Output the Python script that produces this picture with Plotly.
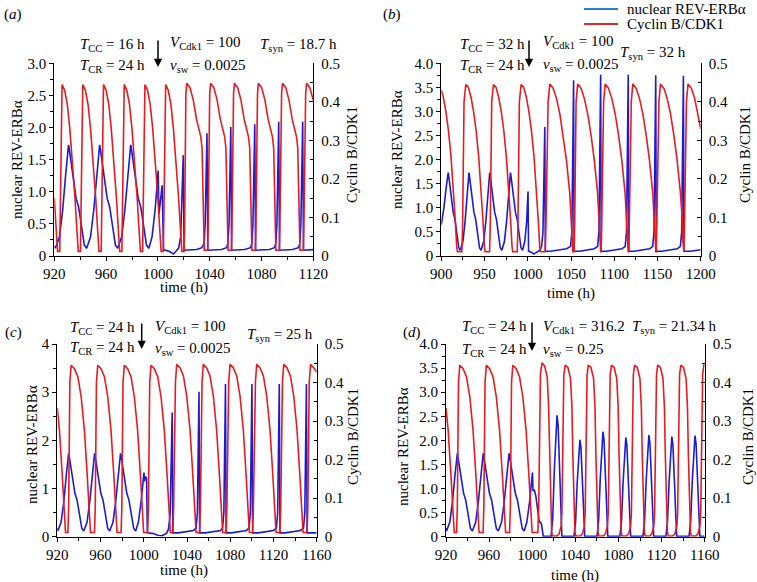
import plotly.graph_objects as go

W, H = 757, 582
FONT = "Liberation Serif, Times New Roman, serif"
BLUE = "#1b1bd4"
RED = "#e81a20"
LEG_BLUE = "#2a7fd4"
LEG_RED = "#e3262b"

# ---------------- Panel (a) ----------------
A_RED_T = [920, 921.5, 922.5, 924.2, 925.3,
           926, 928, 930, 932, 934, 936, 937.5, 938.5, 940.2, 941.3,
           942, 944, 946, 948, 950, 952, 953.5, 954.5, 956.2, 957.3,
           958, 960, 962, 964, 966, 968, 969.5, 970.5, 972.2, 973.3,
           974, 976, 978, 980, 982, 984, 985.5, 986.5, 988.2, 989.3,
           990, 992, 994, 996, 998, 1000, 1001.5, 1002.5, 1004.2, 1005.3,
           1006, 1008, 1010, 1012, 1014, 1016, 1017.5, 1018.5, 1020.2, 1020.6, 1021.6,
           1022.3, 1024.8, 1027.3, 1029.8, 1031.8, 1033.1, 1034.1, 1035.1, 1035.8, 1038.4, 1038.8, 1040.0,
           1040.7, 1043.2, 1045.7, 1048.2, 1050.2, 1051.5, 1052.5, 1053.5, 1054.2, 1056.8, 1057.2, 1058.4,
           1059.1, 1061.6, 1064.1, 1066.6, 1068.6, 1069.9, 1070.9, 1071.9, 1072.6, 1075.3, 1075.7, 1076.9,
           1077.6, 1080.1, 1082.6, 1085.1, 1087.1, 1088.4, 1089.4, 1090.4, 1091.1, 1093.8, 1094.2, 1095.5,
           1096.2, 1098.7, 1101.2, 1103.7, 1105.7, 1107.0, 1108.0, 1109.0, 1109.7, 1112.3, 1112.7, 1114.1,
           1114.8, 1117.3, 1120]
A_RED_V = [0.15, 0.065, 0.012, 0.012, 0.38,
           0.445, 0.43, 0.395, 0.33, 0.245, 0.15, 0.065, 0.012, 0.012, 0.38,
           0.445, 0.43, 0.395, 0.33, 0.245, 0.15, 0.065, 0.012, 0.012, 0.38,
           0.445, 0.43, 0.395, 0.33, 0.245, 0.15, 0.065, 0.012, 0.012, 0.38,
           0.445, 0.43, 0.395, 0.33, 0.245, 0.15, 0.065, 0.012, 0.012, 0.38,
           0.445, 0.43, 0.395, 0.33, 0.245, 0.15, 0.065, 0.012, 0.012, 0.38,
           0.445, 0.43, 0.395, 0.33, 0.245, 0.15, 0.065, 0.012, 0.012, 0.07, 0.42,
           0.448, 0.437, 0.405, 0.355, 0.323, 0.31, 0.28, 0.15, 0.015, 0.015, 0.07, 0.42,
           0.448, 0.437, 0.405, 0.355, 0.323, 0.31, 0.28, 0.15, 0.015, 0.015, 0.07, 0.42,
           0.448, 0.437, 0.405, 0.355, 0.323, 0.31, 0.28, 0.15, 0.015, 0.015, 0.07, 0.42,
           0.448, 0.437, 0.405, 0.355, 0.323, 0.31, 0.28, 0.15, 0.015, 0.015, 0.07, 0.42,
           0.448, 0.437, 0.405, 0.355, 0.323, 0.31, 0.28, 0.15, 0.015, 0.015, 0.07, 0.42,
           0.448, 0.437, 0.404]

A_BLUE_T = [920, 921, 924, 926.5, 928.7, 930.4, 931, 931.6, 934, 936.8, 938.8, 941, 943.2,
            945, 948, 950.5, 952.7, 954.4, 955, 955.6, 958, 960.8, 962.8, 965, 967.2,
            969, 972, 974.5, 976.7, 978.4, 979, 979.6, 982, 984.8, 986.8, 989, 991.2,
            993, 995.5, 998, 999.5, 1000.2, 1000.8, 1002.5, 1003.3, 1004.3,
            1006, 1009, 1012, 1014, 1016, 1017.6, 1019.6, 1020.2,
            1024, 1030, 1034, 1035.7, 1036.5, 1037.9, 1038.5,
            1043, 1049, 1053, 1054.1, 1054.9, 1056.3, 1056.9,
            1061, 1067, 1071.5, 1072.6, 1073.4, 1074.8, 1075.4,
            1080, 1086, 1090, 1091.1, 1091.9, 1093.3, 1093.9,
            1098, 1104, 1108.5, 1109.6, 1110.4, 1111.8, 1112.4,
            1116, 1120]
A_BLUE_V = [0.15, 0.13, 0.3, 0.72, 1.25, 1.65, 1.73, 1.66, 1.31, 0.9, 0.76, 0.42, 0.17,
            0.12, 0.3, 0.72, 1.25, 1.65, 1.73, 1.66, 1.31, 0.9, 0.76, 0.42, 0.17,
            0.12, 0.3, 0.72, 1.25, 1.65, 1.73, 1.66, 1.31, 0.9, 0.76, 0.42, 0.17,
            0.12, 0.3, 0.75, 1.1, 1.33, 0.65, 0.95, 1.1, 0.1,
            0.09, 0.07, 0.03, 0.07, 0.12, 0.3, 1.57, 0.09,
            0.09, 0.1, 0.13, 0.2, 0.5, 1.91, 0.09,
            0.09, 0.1, 0.13, 0.2, 0.5, 2.01, 0.09,
            0.09, 0.1, 0.13, 0.2, 0.5, 2.05, 0.09,
            0.09, 0.1, 0.13, 0.2, 0.5, 2.09, 0.09,
            0.09, 0.1, 0.13, 0.2, 0.5, 2.09, 0.09,
            0.09, 0.1]

# ---------------- Panel (b) ----------------
B_RED_T = [900, 902.3, 905.3, 908.3, 911.3, 914.3, 916.3, 917.8, 918.6, 923.8, 924.6, 926.3,
           928.3, 931.3, 934.3, 937.3, 940.3, 943.3, 946.3, 948.3, 949.8, 950.6, 955.8, 956.6, 958.3,
           960.3, 963.3, 966.3, 969.3, 972.3, 975.3, 978.3, 980.3, 981.8, 982.6, 987.8, 988.6, 990.3,
           992.3, 995.3, 998.3, 1001.3, 1004.3, 1007.3, 1010.3, 1012.3, 1013.8, 1014.6, 1020.2, 1021.0, 1023.5,
           1025.5, 1029.4, 1033.2, 1037.1, 1040.9, 1044.8, 1048.6, 1050.3, 1051.5, 1052.1, 1053.5, 1054.2, 1055.9,
           1057.7, 1061.6, 1065.4, 1069.3, 1073.1, 1077.0, 1080.8, 1082.5, 1083.7, 1084.3, 1084.8, 1085.5, 1087.7,
           1089.5, 1093.4, 1097.2, 1101.1, 1104.9, 1108.8, 1112.6, 1114.3, 1115.5, 1116.1, 1116.7, 1117.4, 1119.7,
           1121.5, 1125.4, 1129.2, 1133.1, 1136.9, 1140.8, 1144.6, 1146.3, 1147.5, 1148.1, 1148.5, 1149.2, 1151.7,
           1153.5, 1157.4, 1161.2, 1165.1, 1168.9, 1172.8, 1176.6, 1178.3, 1179.5, 1180.1, 1180.5, 1181.2, 1183.5,
           1185.3, 1189.2, 1193.0, 1196.9, 1200]
B_RED_V = [0.43, 0.4125, 0.375, 0.325, 0.256, 0.169, 0.0875, 0.025, 0.011, 0.011, 0.075, 0.40,
           0.445, 0.4375, 0.4125, 0.375, 0.325, 0.256, 0.169, 0.0875, 0.025, 0.011, 0.011, 0.075, 0.40,
           0.445, 0.4375, 0.4125, 0.375, 0.325, 0.256, 0.169, 0.0875, 0.025, 0.011, 0.011, 0.075, 0.40,
           0.445, 0.4375, 0.4125, 0.375, 0.325, 0.256, 0.169, 0.0875, 0.025, 0.011, 0.011, 0.075, 0.40,
           0.446, 0.435, 0.409, 0.369, 0.315, 0.2475, 0.1625, 0.106, 0.0375, 0.011, 0.011, 0.075, 0.40,
           0.446, 0.435, 0.409, 0.369, 0.315, 0.2475, 0.1625, 0.106, 0.0375, 0.011, 0.011, 0.075, 0.40,
           0.446, 0.435, 0.409, 0.369, 0.315, 0.2475, 0.1625, 0.106, 0.0375, 0.011, 0.011, 0.075, 0.40,
           0.446, 0.435, 0.409, 0.369, 0.315, 0.2475, 0.1625, 0.106, 0.0375, 0.011, 0.011, 0.075, 0.40,
           0.446, 0.435, 0.409, 0.369, 0.315, 0.2475, 0.1625, 0.106, 0.0375, 0.011, 0.011, 0.075, 0.40,
           0.446, 0.435, 0.409, 0.369, 0.33]

B_BLUE_T = [900, 903, 905.5, 907.4, 908, 908.6, 911, 913.8, 915.8, 918, 920.2,
            922, 925, 927.5, 929.7, 931.4, 932, 932.6, 935, 937.8, 939.8, 942, 944.2,
            946, 949, 951.5, 953.7, 955.4, 956, 956.6, 959, 961.8, 963.8, 966, 968.2,
            970, 973, 975.5, 977.7, 979.4, 980, 980.6, 983, 985.8, 987.8, 990, 992.2,
            994, 996.5, 998.7, 1000.3, 1000.9, 1004, 1007, 1010, 1014, 1016, 1017.6, 1019.7, 1020.3,
            1026, 1035, 1045, 1049.5, 1051.0, 1053, 1053.6,
            1060, 1068, 1077, 1080.8, 1082.3, 1084.3, 1084.9,
            1091, 1100, 1109, 1112.7, 1114.2, 1116.2, 1116.8,
            1123, 1132, 1141, 1144.5, 1146.0, 1148.0, 1148.6,
            1155, 1164, 1173, 1176.5, 1178.0, 1180.0, 1180.6,
            1188, 1200]
B_BLUE_V = [0.65, 1.0, 1.4, 1.67, 1.73, 1.66, 1.31, 0.9, 0.76, 0.42, 0.17,
            0.12, 0.3, 0.72, 1.25, 1.65, 1.73, 1.66, 1.31, 0.9, 0.76, 0.42, 0.17,
            0.12, 0.3, 0.72, 1.25, 1.65, 1.73, 1.66, 1.31, 0.9, 0.76, 0.42, 0.17,
            0.12, 0.3, 0.72, 1.25, 1.65, 1.73, 1.66, 1.31, 0.9, 0.76, 0.42, 0.17,
            0.12, 0.3, 0.7, 1.34, 0.1, 0.08, 0.04, 0.08, 0.12, 0.2, 0.5, 2.68, 0.1,
            0.1, 0.12, 0.15, 0.2, 0.5, 3.65, 0.1,
            0.1, 0.12, 0.15, 0.2, 0.5, 3.76, 0.1,
            0.1, 0.12, 0.15, 0.2, 0.5, 3.76, 0.1,
            0.1, 0.12, 0.15, 0.2, 0.5, 3.75, 0.1,
            0.1, 0.12, 0.15, 0.2, 0.5, 3.74, 0.1,
            0.1, 0.13]

# ---------------- Panels (c) and (d): shared pre-switch segment ----------------
CD_RED_EARLY_T = [920, 922, 924.5, 926.4, 927.6, 929.8, 930.5, 931.6,
                  932.8, 935.9, 939.0, 942.1, 945.1, 947.6, 949.5, 950.7, 954.4, 955.1, 956.2,
                  957.4, 960.5, 963.6, 966.7, 969.7, 972.2, 974.1, 975.3, 979.0, 979.7, 980.8,
                  982.0, 985.1, 988.2, 991.3, 994.3, 996.8, 998.7, 999.9]
CD_RED_EARLY_V = [0.334, 0.276, 0.164, 0.061, 0.011, 0.011, 0.075, 0.40,
                  0.445, 0.436, 0.415, 0.3625, 0.276, 0.164, 0.061, 0.011, 0.011, 0.075, 0.40,
                  0.445, 0.436, 0.415, 0.3625, 0.276, 0.164, 0.061, 0.011, 0.011, 0.075, 0.40,
                  0.445, 0.436, 0.415, 0.3625, 0.276, 0.164, 0.061, 0.011]
CD_BLUE_EARLY_T = [920, 920.5, 923.5, 926, 928.2, 929.9, 930.5, 931.1, 933.5, 936.3, 938.3, 940.5, 942.7,
                   944.5, 947.5, 950, 952.2, 953.9, 954.5, 955.1, 957.5, 960.3, 962.3, 964.5, 966.7,
                   968.5, 971.5, 974, 976.2, 977.9, 978.5, 979.1, 981.5, 984.3, 986.3, 988.5, 990.7,
                   992.5, 995, 997.5, 999.3, 1000.2]
CD_BLUE_EARLY_V = [0.18, 0.12, 0.3, 0.72, 1.25, 1.65, 1.73, 1.66, 1.31, 0.9, 0.76, 0.42, 0.17,
                   0.12, 0.3, 0.72, 1.25, 1.65, 1.73, 1.66, 1.31, 0.9, 0.76, 0.42, 0.17,
                   0.12, 0.3, 0.72, 1.25, 1.65, 1.73, 1.66, 1.31, 0.9, 0.76, 0.42, 0.17,
                   0.12, 0.3, 0.72, 1.05, 1.33]

# ---------------- Panel (c) post-switch ----------------
C_RED_LATE_T = [1003.6, 1004.3, 1005.5,
                1006.7, 1009.8, 1012.9, 1016.0, 1019.0, 1021.5, 1023.4, 1024.6, 1026.9, 1027.6, 1029.3,
                1030.5, 1033.6, 1036.7, 1039.8, 1042.8, 1045.3, 1047.2, 1048.4, 1051.7, 1052.4, 1053.9,
                1055.1, 1058.2, 1061.3, 1064.4, 1067.4, 1069.9, 1071.8, 1073.0, 1076.2, 1076.9, 1078.6,
                1079.8, 1082.9, 1086.0, 1089.1, 1092.1, 1094.6, 1096.5, 1097.7, 1100.7, 1101.4, 1103.3,
                1104.5, 1107.6, 1110.7, 1113.8, 1116.8, 1119.3, 1121.2, 1122.4, 1126.0, 1126.7, 1128.3,
                1129.5, 1132.6, 1135.7, 1138.8, 1141.8, 1144.3, 1146.2, 1147.4, 1151.1, 1151.8, 1153.1,
                1154.3, 1157.4, 1160]
C_RED_LATE_V = [0.011, 0.075, 0.40,
                0.445, 0.436, 0.415, 0.3625, 0.276, 0.164, 0.061, 0.011, 0.011, 0.075, 0.40,
                0.447, 0.438, 0.417, 0.364, 0.277, 0.164, 0.061, 0.011, 0.011, 0.075, 0.40,
                0.447, 0.438, 0.417, 0.364, 0.277, 0.164, 0.061, 0.011, 0.011, 0.075, 0.40,
                0.447, 0.438, 0.417, 0.364, 0.277, 0.164, 0.061, 0.011, 0.011, 0.075, 0.40,
                0.447, 0.438, 0.417, 0.364, 0.277, 0.164, 0.061, 0.011, 0.011, 0.075, 0.40,
                0.447, 0.438, 0.417, 0.364, 0.277, 0.164, 0.061, 0.011, 0.011, 0.075, 0.40,
                0.447, 0.438, 0.427]
C_BLUE_LATE_T = [1000.7, 1001.3, 1002.6, 1003.3, 1008, 1013, 1017, 1021, 1022.8, 1024.4, 1026.3, 1026.9,
                 1032, 1040, 1046, 1048.4, 1049.6, 1051.1, 1051.7,
                 1057, 1065, 1071, 1072.9, 1074.1, 1075.6, 1076.2,
                 1081, 1089, 1095, 1097.4, 1098.6, 1100.1, 1100.7,
                 1106, 1114, 1120, 1122.7, 1123.9, 1125.4, 1126.0,
                 1131, 1139, 1145, 1147.8, 1149.0, 1150.5, 1151.1,
                 1156, 1160]
C_BLUE_LATE_V = [1.15, 1.24, 1.22, 0.08, 0.07, 0.03, 0.02, 0.07, 0.15, 0.45, 2.58, 0.08,
                 0.08, 0.1, 0.13, 0.18, 0.5, 3.01, 0.08,
                 0.08, 0.1, 0.13, 0.18, 0.5, 3.17, 0.08,
                 0.08, 0.1, 0.13, 0.18, 0.5, 3.17, 0.08,
                 0.08, 0.1, 0.13, 0.18, 0.5, 3.17, 0.08,
                 0.08, 0.1, 0.13, 0.18, 0.5, 3.17, 0.08,
                 0.08, 0.08]

# ---------------- Panel (d) post-switch ----------------
D_RED_LATE_T = [1005.2, 1006.0, 1007.6,
                1009.0, 1011.5, 1013.9, 1015.2, 1016.1, 1017.0, 1018.0, 1018.8, 1023.0, 1025.0, 1026.8, 1027.5, 1028.3, 1029.3,
                1030.6, 1033.1, 1035.5, 1036.8, 1037.7, 1038.6, 1039.6, 1040.4, 1044.6, 1046.6, 1048.4, 1049.1, 1049.9, 1050.9,
                1052.0, 1054.5, 1056.9, 1058.2, 1059.1, 1060.0, 1061.0, 1061.8, 1066.0, 1068.0, 1069.8, 1070.5, 1071.3, 1072.3,
                1073.5, 1076.0, 1078.4, 1079.7, 1080.6, 1081.5, 1082.5, 1083.3, 1087.5, 1089.5, 1091.3, 1092.0, 1092.8, 1093.8,
                1095.0, 1097.5, 1099.9, 1101.2, 1102.1, 1103.0, 1104.0, 1104.8, 1109.0, 1111.0, 1112.8, 1113.5, 1114.3, 1115.3,
                1116.4, 1118.9, 1121.3, 1122.6, 1123.5, 1124.4, 1125.4, 1126.2, 1130.4, 1132.4, 1134.2, 1134.9, 1135.7, 1136.7,
                1137.8, 1140.3, 1142.7, 1144.0, 1144.9, 1145.8, 1146.8, 1147.6, 1151.8, 1153.8, 1155.6, 1156.3, 1157.1, 1158.1,
                1159.2, 1160]
D_RED_LATE_V = [0.011, 0.075, 0.42,
                0.451, 0.443, 0.414, 0.3375, 0.2075, 0.0775, 0.0125, 0.002, 0.002, 0.008, 0.028, 0.06, 0.30, 0.42,
                0.445, 0.439, 0.411, 0.3375, 0.2075, 0.0775, 0.0125, 0.002, 0.002, 0.008, 0.028, 0.06, 0.30, 0.42,
                0.445, 0.439, 0.411, 0.3375, 0.2075, 0.0775, 0.0125, 0.002, 0.002, 0.008, 0.028, 0.06, 0.30, 0.42,
                0.445, 0.439, 0.411, 0.3375, 0.2075, 0.0775, 0.0125, 0.002, 0.002, 0.008, 0.028, 0.06, 0.30, 0.42,
                0.445, 0.439, 0.411, 0.3375, 0.2075, 0.0775, 0.0125, 0.002, 0.002, 0.008, 0.028, 0.06, 0.30, 0.42,
                0.445, 0.439, 0.411, 0.3375, 0.2075, 0.0775, 0.0125, 0.002, 0.002, 0.008, 0.028, 0.06, 0.30, 0.42,
                0.445, 0.439, 0.411, 0.3375, 0.2075, 0.0775, 0.0125, 0.002, 0.002, 0.008, 0.028, 0.06, 0.30, 0.42,
                0.445, 0.444]
D_BLUE_LATE_T = [1000.7, 1001.8, 1003.3, 1005, 1006.5, 1008.5, 1009.5, 1010.2,
                 1017.5, 1019, 1020.5, 1022, 1023, 1024, 1025.5, 1026.8, 1027.5,
                 1038.7, 1040.2, 1041.7, 1043.2, 1044.2, 1045.2, 1046.7, 1048, 1048.7,
                 1060.1, 1061.6, 1063.1, 1064.6, 1065.6, 1066.6, 1068.1, 1069.4, 1070.1,
                 1081.3, 1082.8, 1084.3, 1085.8, 1086.8, 1087.8, 1089.3, 1090.6, 1091.3,
                 1102.7, 1104.2, 1105.7, 1107.2, 1108.2, 1109.2, 1110.7, 1112, 1112.7,
                 1124, 1125.5, 1127, 1128.5, 1129.5, 1130.5, 1132, 1133.3, 1134,
                 1145.5, 1147, 1148.5, 1150, 1151, 1152, 1153.5, 1154.8, 1155.5,
                 1160]
D_BLUE_LATE_V = [0.95, 0.98, 0.85, 0.5, 0.32, 0.27, 0.1, 0.01,
                 0.01, 0.38, 1.39, 2.32, 2.52, 2.32, 1.26, 0.25, 0.01,
                 0.01, 0.3, 1.11, 1.85, 2.01, 1.85, 1.0, 0.2, 0.01,
                 0.01, 0.33, 1.2, 2.01, 2.18, 2.01, 1.09, 0.22, 0.01,
                 0.01, 0.31, 1.13, 1.9, 2.06, 1.9, 1.03, 0.21, 0.01,
                 0.01, 0.32, 1.16, 1.94, 2.11, 1.94, 1.06, 0.21, 0.01,
                 0.01, 0.31, 1.14, 1.91, 2.08, 1.91, 1.04, 0.21, 0.01,
                 0.01, 0.32, 1.16, 1.93, 2.1, 1.93, 1.05, 0.21, 0.01,
                 0.01]

C_RED_T = CD_RED_EARLY_T + C_RED_LATE_T
C_RED_V = CD_RED_EARLY_V + C_RED_LATE_V
C_BLUE_T = CD_BLUE_EARLY_T + C_BLUE_LATE_T
C_BLUE_V = CD_BLUE_EARLY_V + C_BLUE_LATE_V
D_RED_T = CD_RED_EARLY_T + D_RED_LATE_T
D_RED_V = CD_RED_EARLY_V + D_RED_LATE_V
D_BLUE_T = CD_BLUE_EARLY_T + D_BLUE_LATE_T
D_BLUE_V = CD_BLUE_EARLY_V + D_BLUE_LATE_V

# tick labels
A_LEFT_TICKS = ["0", "0.5", "1.0", "1.5", "2.0", "2.5", "3.0"]
HALF_TICKS_4 = ["0", "0.5", "1.0", "1.5", "2.0", "2.5", "3.0", "3.5", "4.0"]
INT_TICKS_4 = ["0", "1", "2", "3", "4"]
RIGHT_TICKS = ["0", "0.1", "0.2", "0.3", "0.4", "0.5"]

LEFT_TITLE = "nuclear REV-ERBα"
RIGHT_TITLE = "Cyclin B/CDK1"
X_TITLE = "time (h)"


def px(x):
    return x / W


def py(y):
    return 1 - y / H


fig = go.Figure()

panels = [
    ("a", "x", "y", "y2", (A_RED_T, A_RED_V), (A_BLUE_T, A_BLUE_V)),
    ("b", "x2", "y3", "y4", (B_RED_T, B_RED_V), (B_BLUE_T, B_BLUE_V)),
    ("c", "x3", "y5", "y6", (C_RED_T, C_RED_V), (C_BLUE_T, C_BLUE_V)),
    ("d", "x4", "y7", "y8", (D_RED_T, D_RED_V), (D_BLUE_T, D_BLUE_V)),
]
for name, xa, yl, yr, red, blue in panels:
    fig.add_trace(go.Scatter(x=red[0], y=red[1], xaxis=xa, yaxis=yr, mode="lines",
                             line=dict(color=RED, width=1.6), showlegend=False,
                             hoverinfo="skip"))
    fig.add_trace(go.Scatter(x=blue[0], y=blue[1], xaxis=xa, yaxis=yl, mode="lines",
                             line=dict(color=BLUE, width=1.6), showlegend=False,
                             hoverinfo="skip"))

tickfont = dict(family=FONT, size=15, color="black")


def xaxis(domain, anchor, rng, vals, minor_vals):
    return dict(domain=domain, anchor=anchor, range=rng, tickvals=vals,
                ticktext=[str(v) for v in vals], ticks="outside", ticklen=4,
                tickwidth=1, tickcolor="black", showline=True, linecolor="black",
                linewidth=1, showgrid=False, zeroline=False, tickfont=tickfont,
                automargin=False, ticklabelstandoff=0,
                minor=dict(tickvals=minor_vals, ticks="outside", ticklen=3,
                           tickcolor="black", tickwidth=1, showgrid=False))


def yleft(domain, anchor, rng, vals, text, minor_vals):
    return dict(domain=domain, anchor=anchor, range=rng, tickvals=vals, ticktext=text,
                ticks="outside", ticklen=4, tickwidth=1, tickcolor="black",
                showline=True, linecolor="black", linewidth=1, showgrid=False,
                zeroline=False, tickfont=tickfont, automargin=False,
                minor=dict(tickvals=minor_vals, ticks="outside", ticklen=3,
                           tickcolor="black", tickwidth=1, showgrid=False))


def yright(over, anchor, rng):
    return dict(overlaying=over, anchor=anchor, side="right", range=rng,
                tickvals=[0, 0.1, 0.2, 0.3, 0.4, 0.5], ticktext=RIGHT_TICKS,
                ticks="inside", ticklen=4, tickwidth=1, tickcolor="black",
                showline=True, linecolor="black", linewidth=1, showgrid=False,
                zeroline=False, tickfont=tickfont, ticklabelstandoff=4,
                automargin=False,
                minor=dict(tickvals=[0.05, 0.15, 0.25, 0.35, 0.45], ticks="inside",
                           ticklen=3, tickcolor="black", tickwidth=1, showgrid=False))


top_dom = [py(256), py(63.3)]
bot_dom = [py(536.7), py(344)]

q4 = [i * 0.25 for i in range(17)]
q3 = [i * 0.25 for i in range(13)]
h4 = [i * 0.5 for i in range(9)]

fig.update_layout(
    template="none",
    width=W, height=H, autosize=False,
    margin=dict(l=0, r=0, t=0, b=0, pad=0),
    paper_bgcolor="white", plot_bgcolor="white",
    showlegend=False,
    font=dict(family=FONT, size=15, color="black"),
    xaxis=xaxis([px(54.3), px(313.3)], "y", [920, 1120],
                [920, 960, 1000, 1040, 1080, 1120], [940, 980, 1020, 1060, 1100]),
    yaxis=yleft(top_dom, "x", [0, 3], [0, 0.5, 1, 1.5, 2, 2.5, 3], A_LEFT_TICKS, q3),
    yaxis2=yright("y", "x", [0, 0.5]),
    xaxis2=xaxis([px(441.3), px(700.7)], "y3", [900, 1200],
                 [900, 950, 1000, 1050, 1100, 1150, 1200],
                 [925, 975, 1025, 1075, 1125, 1175]),
    yaxis3=yleft(top_dom, "x2", [0, 4], h4, HALF_TICKS_4, q4),
    yaxis4=yright("y3", "x2", [0, 0.5]),
    xaxis3=xaxis([px(57.3), px(316.7)], "y5", [920, 1160],
                 [920, 960, 1000, 1040, 1080, 1120, 1160],
                 [940, 980, 1020, 1060, 1100, 1140]),
    yaxis5=yleft(bot_dom, "x3", [0, 4], [0, 1, 2, 3, 4], INT_TICKS_4, h4),
    yaxis6=yright("y5", "x3", [0, 0.5]),
    xaxis4=xaxis([px(446), px(704.7)], "y7", [920, 1160],
                 [920, 960, 1000, 1040, 1080, 1120, 1160],
                 [940, 980, 1020, 1060, 1100, 1140]),
    yaxis7=yleft(bot_dom, "x4", [0, 4], h4, HALF_TICKS_4, q4),
    yaxis8=yright("y7", "x4", [0, 0.5]),
)

ann = []


def text(x, y, s, anchor="left", size=15, angle=0):
    ann.append(dict(x=px(x), y=py(y), xref="paper", yref="paper", text=s,
                    showarrow=False, xanchor=anchor, yanchor="middle", textangle=angle,
                    font=dict(family=FONT, size=size, color="black")))


def arrow(x, y_top, y_tip):
    ann.append(dict(x=px(x), y=py(y_tip), xref="paper", yref="paper", text="",
                    showarrow=True, ax=0, ay=-(y_tip - y_top), arrowhead=2,
                    arrowsize=1.1, arrowwidth=1.5, arrowcolor="black"))


text(13, 14, "(<i>a</i>)", "center")
text(392, 14, "(<i>b</i>)", "center")
text(13, 332, "(<i>c</i>)", "center")
text(412, 332, "(<i>d</i>)", "center")

params = [
    (78, 45, 66, 158, 168, 43, 66, 258, 45, "16 h", "100", "0.0025", "18.7 h"),
    (458, 45, 66, 529, 541, 42, 65, 618, 53, "32 h", "100", "0.0025", "32 h"),
    (68, 328, 348, 141.7, 153, 327, 349, 245, 335, "24 h", "100", "0.0025", "25 h"),
    (460, 327, 350, 532, 541, 327, 350, 630, 327, "24 h", "316.2", "0.25", "21.34 h"),
]
for (tx, ty1, ty2, axx, vx, vy1, vy2, sx, sy, tcc, vcdk, vsw, tsyn) in params:
    text(tx, ty1, "<i>T</i><sub>CC</sub> = " + tcc)
    text(tx, ty2, "<i>T</i><sub>CR</sub> = 24 h")
    arrow(axx, ty1 - 6, ty2 + 1)
    text(vx, vy1, "<i>V</i><sub>Cdk1</sub> = " + vcdk)
    text(vx, vy2, "<i>v</i><sub>sw</sub> = " + vsw)
    text(sx, sy, "<i>T</i><sub>syn</sub> = " + tsyn)

text(17, 160, LEFT_TITLE, "center", 15, -90)
text(397, 150, LEFT_TITLE, "center", 15, -90)
text(32, 445, LEFT_TITLE, "center", 15, -90)
text(403, 447, LEFT_TITLE, "center", 15, -90)
text(352, 155, RIGHT_TITLE, "center", 15, -90)
text(745, 155, RIGHT_TITLE, "center", 15, -90)
text(353, 437, RIGHT_TITLE, "center", 15, -90)
text(748, 437, RIGHT_TITLE, "center", 15, -90)
text(184, 287, X_TITLE, "center", 15)
text(571, 293, X_TITLE, "center", 15)
text(184, 570, X_TITLE, "center", 15)
text(575, 575, X_TITLE, "center", 15)

text(625, 9, "nuclear REV-ERBα", "left", 15)
text(625, 24, "Cyclin B/CDK1", "left", 15)
fig.update_layout(annotations=ann)
fig.add_shape(type="line", xref="paper", yref="paper", x0=px(584), x1=px(618),
              y0=py(9), y1=py(9), line=dict(color=LEG_BLUE, width=2.2))
fig.add_shape(type="line", xref="paper", yref="paper", x0=px(584), x1=px(618),
              y0=py(24), y1=py(24), line=dict(color=LEG_RED, width=2.2))

fig.write_html("out.html", config={"displayModeBar": False, "staticPlot": True},
               post_script="document.body.style.margin='0';")
